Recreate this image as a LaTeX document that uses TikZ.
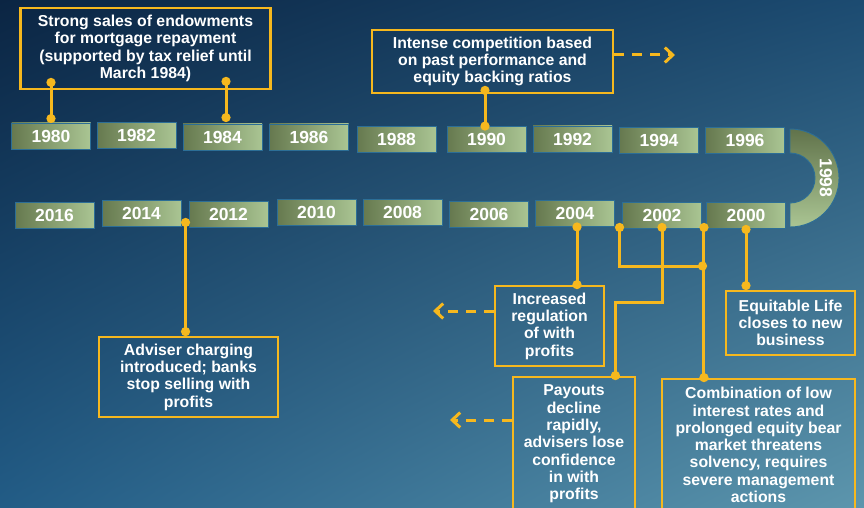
\documentclass[tikz,border=0pt]{standalone}
\usepackage{fontspec}
\setmainfont{Liberation Sans}
\usetikzlibrary{arrows.meta,shadings}

\definecolor{bgUL}{HTML}{0B2543}
\definecolor{bgUR}{HTML}{1C4B71}
\definecolor{bgLL}{HTML}{225C86}
\definecolor{bgLR}{HTML}{5D96AD}
\definecolor{gold}{HTML}{F6B81E}
\definecolor{oliveL}{HTML}{66794F}
\definecolor{oliveR}{HTML}{AAC593}
\definecolor{yearedge}{HTML}{2C6E96}

\tikzset{
  yearbox/.style={draw=yearedge, line width=0.9pt, left color=oliveL, right color=oliveR,
    minimum width=79pt, minimum height=26pt, inner sep=0pt, text=white,
    font=\bfseries\fontsize{17.5}{18}\selectfont},
  callout/.style={draw=gold, line width=2.8pt, text=white, align=center, inner sep=0pt,
    font=\bfseries\fontsize{15.8}{17.3}\selectfont},
  link/.style={draw=gold, line width=3pt, {Circle[length=9pt]}-{Circle[length=9pt]},
    shorten <=-4.5pt, shorten >=-4.5pt},
  hint/.style={draw=gold, line width=3pt, dash pattern=on 10pt off 8pt,
    -{Straight Barb[length=8pt,width=15pt]}},
}

\begin{document}
\begin{tikzpicture}[x=1pt, y=-1pt]
  \useasboundingbox (0,0) rectangle (864,508);
  \clip (0,0) rectangle (864,508);
  % backdrop
  \shade[upper left=bgUL, upper right=bgUR, lower left=bgLL, lower right=bgLR]
    (0,0) rectangle (864,508);

  % upper row of years
  \node[yearbox] (y1980) at (51,136)    {1980};
  \node[yearbox] (y1982) at (136.5,135.5) {1982};
  \node[yearbox] (y1984) at (222.5,137) {1984};
  \node[yearbox] (y1986) at (309,137)   {1986};
  \node[yearbox] (y1988) at (396.5,139.5) {1988};
  \node[yearbox] (y1990) at (486.5,139.5) {1990};
  \node[yearbox] (y1992) at (572.5,139) {1992};
  \node[yearbox] (y1994) at (659,140.5) {1994};
  \node[yearbox] (y1996) at (745,140.5) {1996};

  % turning bend
  \shade[top color=oliveL!95!black, bottom color=oliveR, draw=yearedge, line width=0.9pt]
    (790,129) arc[start angle=90, end angle=-90, radius=49pt]
    -- (790,203) arc[start angle=-90, end angle=90, radius=25pt] -- cycle;
  \node[text=white, font=\bfseries\fontsize{17.5}{18}\selectfont, rotate=-90] (y1998) at (826,178) {1998};

  % lower row of years
  \node[yearbox] (y2016) at (54.5,215.5) {2016};
  \node[yearbox] (y2014) at (141.5,213.5) {2014};
  \node[yearbox] (y2012) at (228.5,214) {2012};
  \node[yearbox] (y2010) at (316.5,212) {2010};
  \node[yearbox] (y2008) at (402.5,212) {2008};
  \node[yearbox] (y2006) at (489,214)   {2006};
  \node[yearbox] (y2004) at (575,213.5) {2004};
  \node[yearbox] (y2002) at (662,215)   {2002};
  \node[yearbox] (y2000) at (746,215)   {2000};

  % event callouts
  \node[callout, minimum width=250pt, minimum height=81pt] (c80) at (145.5,48.5)
    {Strong sales of endowments\\for mortgage repayment\\(supported by tax relief until\\March 1984)};
  \node[callout, minimum width=241pt, minimum height=63pt] (c90) at (492.5,61.5)
    {Intense competition based\\on past performance and\\equity backing ratios};
  \node[callout, minimum width=109pt, minimum height=80pt] (c04) at (549.5,326)
    {Increased\\regulation\\of with\\profits};
  \node[callout, minimum width=122pt, minimum height=134pt] (c02a) at (574,444)
    {Payouts\\decline\\rapidly,\\advisers lose\\confidence\\in with\\profits};
  \node[callout, minimum width=193pt, minimum height=132pt] (c02b) at (758.5,445)
    {Combination of low\\interest rates and\\prolonged equity bear\\market threatens\\solvency, requires\\severe management\\actions};
  \node[callout, minimum width=129pt, minimum height=64pt] (c00) at (790.5,323)
    {Equitable Life\\closes to new\\business};
  \node[callout, minimum width=179pt, minimum height=80pt] (c12) at (188.5,377)
    {Adviser charging\\introduced; banks\\stop selling with\\profits};

  % links from years to events
  \draw[link] ([yshift=4pt]y1980.north) -- ([yshift=8pt]y1980.north |- c80.south);
  \draw[link] ([xshift=3.5pt,yshift=6pt]y1984.north) -- ([xshift=3.5pt,yshift=9pt]y1984.north |- c80.south);
  \draw[link] ([xshift=-1.5pt]y1990.north) -- ([xshift=-1.5pt,yshift=4pt]y1990.north |- c90.south);
  \draw[link] ([xshift=2pt]y2004.south) -- ([xshift=2pt]y2004.south |- c04.north);
  \draw[link] ([xshift=-3pt,yshift=5pt]y2012.south west) -- ([xshift=-3pt,yshift=4pt]y2012.south west |- c12.north);

  \coordinate (j02) at (702.5,266);
  \coordinate (k02) at (662,302);
  \draw[link] ([xshift=-2.5pt,yshift=1pt]y2002.south west) |- (j02);
  \draw[link] ([yshift=1pt]y2002.south) -- (k02) -| ([xshift=-21pt]c02a.north east);
  \draw[link] ([xshift=2pt,yshift=1pt]y2002.south east) -- ([xshift=2pt]y2002.south east |- c02b.north);
  \draw[link] ([yshift=-1pt]y2000.south) -- ([yshift=4pt]y2000.south |- c00.north);

  % pointers to later developments
  \coordinate (h90) at (675,55);
  \coordinate (h04) at (433,311);
  \coordinate (h02) at (450,420);
  \draw[hint] ([yshift=6.5pt]c90.east) -- (h90);
  \draw[hint] ([yshift=15pt]c04.west) -- (h04);
  \draw[hint] ([yshift=24pt]c02a.west) -- (h02);
\end{tikzpicture}
\end{document}
